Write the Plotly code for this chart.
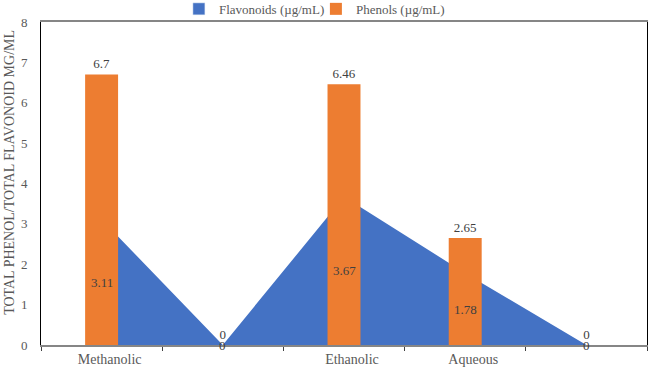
import plotly.graph_objects as go

categories = ["Methanolic", " ", "Ethanolic", "Aqueous", "  "]
flavonoids = [3.11, 0, 3.67, 1.78, 0]
phenols = [6.7, 0, 6.46, 2.65, 0]
flav_half = [v / 2 for v in flavonoids]
y_title = "TOTAL PHENOL/TOTAL FLAVONOID MG/ML"

FONT = "Liberation Serif, Times New Roman, serif"
GREY = "#595959"
TXT = "#404040"
BLUE = "#4472C4"
ORANGE = "#ED7D31"

fig = go.Figure()
fig.add_trace(go.Scatter(
    x=categories, y=flavonoids, name="Flavonoids (µg/mL)",
    mode="lines", fill="tozeroy", line=dict(width=0, color=BLUE),
    fillcolor=BLUE, xaxis="x", yaxis="y", hoverinfo="skip", showlegend=False,
))
# legend swatch for the area series
fig.add_trace(go.Bar(
    x=[None], y=[None], name="Flavonoids (µg/mL)",
    marker=dict(color=BLUE), xaxis="x", yaxis="y2", showlegend=True,
))
fig.add_trace(go.Bar(
    x=categories, y=phenols, name="Phenols (µg/mL)",
    marker=dict(color=ORANGE, line=dict(width=0)), width=0.272,
    text=[str(v) for v in phenols], textposition="outside",
    textfont=dict(family=FONT, size=13, color=TXT), cliponaxis=False,
    xaxis="x", yaxis="y2",
))

for c, v, h in zip(categories, flavonoids, flav_half):
    fig.add_annotation(x=c, y=h, xref="x", yref="y", text=str(v),
                       showarrow=False, font=dict(family=FONT, size=13, color=TXT))

# y-axis title
fig.add_annotation(x=-0.0512, y=0.536, xref="paper", yref="paper", text=y_title,
                   textangle=-90, showarrow=False, xanchor="center", yanchor="middle",
                   font=dict(family=FONT, size=14, color=GREY))

fig.update_layout(
    width=650, height=370,
    margin=dict(l=41, r=3, t=22, b=25, autoexpand=False),
    paper_bgcolor="white", plot_bgcolor="white",
    font=dict(family=FONT, size=13, color=GREY),
    showlegend=True,
    barmode="overlay",
    legend=dict(orientation="h", x=0.486, xanchor="center", xref="container",
                y=1.087, yanchor="top", yref="paper",
                font=dict(family=FONT, size=13, color=GREY),
                itemwidth=30, entrywidth=92, bgcolor="rgba(0,0,0,0)"),
    xaxis=dict(type="category", categoryorder="array", categoryarray=categories,
               range=[-0.5, 4.5], showline=True, linecolor="#868686", linewidth=1.5,
               mirror=True, ticks="outside", tickson="boundaries", ticklen=4,
               tickcolor="#404040", showgrid=False, ticklabelshift=8,
               tickfont=dict(family=FONT, size=14, color=GREY)),
    yaxis=dict(range=[0, 8], dtick=1, showline=True, linecolor="#000000", linewidth=1,
               mirror=True, showgrid=False, zeroline=False, ticks="",
               ticklabelstandoff=10,
               tickfont=dict(family=FONT, size=13, color=GREY)),
    yaxis2=dict(range=[0, 8], overlaying="y", visible=False, showgrid=False),
)

fig.write_html("out.html")
